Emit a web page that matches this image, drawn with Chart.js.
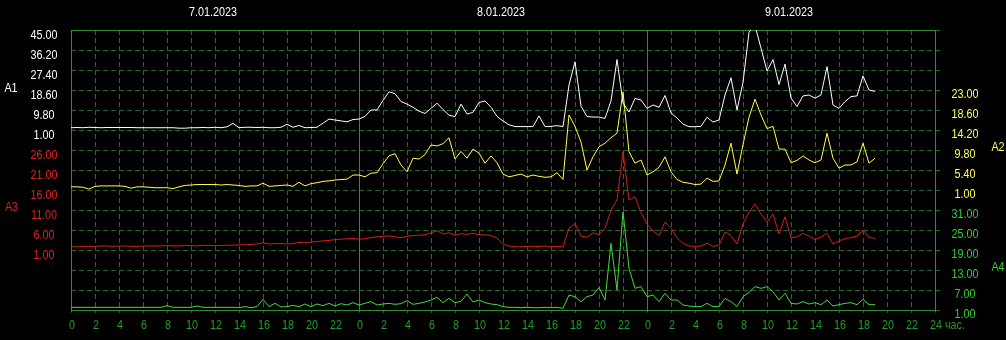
<!DOCTYPE html>
<html>
<head>
<meta charset="utf-8">
<script src="https://cdn.jsdelivr.net/npm/chart.js@4.4.1/dist/chart.umd.min.js"></script>
<style>
  html, body { margin: 0; padding: 0; background: #000; }
  canvas { display: block; }
</style>
</head>
<body>
<canvas id="chart" width="1006" height="340"></canvas>
<script>
// sample times in hours from 7.01.2023 00:00, every 30 minutes
const hours = Array.from({ length: 135 }, (_, i) => i * 0.5);

const dayLabels = ["7.01.2023", "8.01.2023", "9.01.2023"];

// A1 (white, left upper axis)
const a1 = [
  2.0, 2.1, 2.0, 2.2, 2.1, 2.0, 2.1, 2.1, 2.1, 2.1, 2.1, 2.0, 2.0, 2.0, 2.0, 2.0,
  2.0, 2.0, 1.8, 1.8, 2.0, 2.0, 2.1, 2.0, 2.2, 2.0, 2.4, 3.9, 2.0, 2.2, 2.2, 2.1,
  2.2, 2.0, 2.0, 2.2, 3.5, 2.2, 3.0, 2.0, 2.1, 2.2, 4.0, 5.8, 5.4, 5.0, 4.6, 5.6,
  // 8.01
  5.8, 7.0, 9.8, 9.8, 14, 17.8, 17, 13.5, 12.4, 11, 9.3, 8.3, 10.5, 12.8, 10, 7.5,
  6.9, 12.4, 8, 8.8, 13.1, 13.8, 11, 7, 5, 3.3, 2.5, 2.5, 2.5, 2.5, 7.2, 2.5,
  2.6, 2.9, 2.5, 20.8, 31, 11.5, 6.9, 6.7, 6.7, 6.1, 13.8, 32, 12.9, 8.9, 14.9, 14.2,
  // 9.01
  10.5, 12, 11, 16.2, 8.5, 6.3, 3.6, 2.45, 2.45, 2.6, 6.6, 4.5, 5.4, 16.4, 24, 9.8,
  22, 44, 47, 37, 27, 32, 21, 30, 15.1, 11.3, 16, 16.4, 15, 16.4, 28.9, 12,
  10.5, 13.5, 15.7, 16, 24.8, 18.6, 18
];

// A2 (yellow, right upper axis)
const a2 = [
  1.7, 1.7, 1.6, 1.2, 1.8, 1.9, 1.9, 1.9, 1.9, 1.8, 1.4, 1.7, 1.7, 1.6, 1.5, 1.5,
  1.5, 1.3, 1.7, 2.0, 2.1, 2.2, 2.2, 2.2, 2.2, 2.1, 2.2, 2.1, 2.0, 1.8, 1.9, 1.9,
  2.5, 1.8, 1.9, 2.0, 2.1, 1.8, 2.7, 1.9, 2.4, 2.6, 2.9, 3.0, 3.2, 3.3, 3.4, 4.3,
  // 8.01
  4.3, 3.9, 4.7, 4.8, 6.8, 8.5, 9.0, 6.5, 5.0, 8.0, 7.8, 8.8, 10.9, 10.7, 11.2, 12.5,
  7.8, 9.5, 8.0, 10.0, 9.1, 6.9, 8.5, 7.0, 4.5, 3.9, 4.2, 4.5, 3.9, 4.3, 4.0, 3.8,
  3.9, 4.8, 3.3, 17.5, 15.0, 11.5, 5.4, 8.3, 10.5, 11.3, 12.5, 13.5, 22.6, 9.4, 6.9, 7.6,
  // 9.01
  4.3, 5.0, 6.0, 8.3, 5.0, 3.3, 2.7, 2.5, 2.2, 2.3, 3.6, 2.9, 3.0, 6.5, 11.3, 4.5,
  11, 17, 21, 17.5, 14.5, 15, 10, 10, 7, 7.5, 8.5, 7.6, 7, 7.6, 13.5, 8,
  5.8, 6.5, 6.5, 7.2, 11.3, 6.9, 8.0
];

// A3 (red, left lower axis)
const a3 = [
  1.8, 1.8, 1.9, 1.9, 1.9, 2.0, 2.0, 1.9, 2.0, 2.0, 1.9, 1.9, 2.0, 2.0, 2.0, 2.0,
  2.1, 2.0, 2.0, 2.1, 2.1, 2.0, 2.2, 2.1, 2.1, 2.1, 2.2, 2.2, 2.3, 2.3, 2.4, 2.5,
  2.8, 2.5, 2.6, 2.6, 2.5, 2.6, 2.9, 2.8, 3.0, 3.1, 3.3, 3.4, 3.6, 3.7, 3.8, 3.9,
  // 8.01
  3.7, 3.8, 4.1, 4.3, 4.4, 4.5, 4.3, 4.1, 4.4, 4.6, 4.7, 4.8, 5.3, 5.8, 5.0, 5.3,
  4.7, 5.1, 4.9, 5.2, 4.8, 4.8, 4.6, 4.0, 2.4, 2.0, 1.8, 1.8, 1.9, 1.8, 1.9, 2.0,
  1.8, 1.9, 1.8, 6.5, 7.6, 4.5, 4.2, 5.3, 4.8, 6.4, 11, 13.5, 25.6, 13.5, 14.3, 10.4,
  // 9.01
  7.5, 5.7, 4.6, 8.0, 6.5, 4.0, 2.7, 2.0, 1.9, 2.0, 2.7, 1.9, 2.2, 5.5, 4.6, 2.5,
  7.5, 10.5, 12.5, 10, 8, 10, 5, 9.3, 4, 4.3, 5.2, 4.5, 3.6, 4.2, 5.2, 2.5,
  3.3, 3.8, 4.1, 4.5, 6.0, 4.2, 3.9
];

// A4 (green, right lower axis)
const a4 = [
  1.8, 1.8, 1.8, 1.8, 1.8, 1.8, 1.8, 1.8, 1.8, 1.8, 1.8, 1.8, 1.8, 1.8, 1.8, 1.8,
  2.3, 1.8, 1.8, 1.8, 1.8, 2.2, 1.8, 1.8, 1.8, 1.8, 1.8, 1.8, 1.7, 2.0, 1.7, 2.0,
  4.2, 2.0, 3.0, 1.9, 2.0, 2.4, 2.0, 2.8, 2.0, 2.8, 2.3, 3.0, 2.2, 2.9, 2.5, 3.2,
  // 8.01
  2.5, 3.0, 3.5, 2.5, 2.8, 3.0, 2.7, 2.9, 3.8, 2.7, 3.0, 3.4, 4.0, 4.8, 3.2, 4.5,
  3.2, 3.6, 5.8, 3.4, 4.0, 3.2, 2.8, 2.6, 2.0, 1.8, 1.8, 1.7, 1.8, 1.7, 1.7, 1.8,
  1.7, 1.8, 1.5, 5.5, 5.0, 3.5, 5.0, 5.5, 7.8, 4.0, 21, 7.0, 30.5, 13.5, 7.5, 8.0,
  // 9.01
  5.0, 5.5, 3.5, 6.0, 4.0, 4.0, 2.5, 2.2, 2.0, 2.0, 3.0, 2.0, 2.1, 4.5, 3.5, 2.0,
  5.0, 6.3, 8.0, 7.5, 8.0, 6.5, 4.0, 6.0, 3.0, 2.8, 3.5, 2.8, 3.2, 2.6, 4.0, 2.2,
  2.6, 3.0, 3.2, 2.6, 4.2, 2.6, 2.6
];

// tick values of each axis
const ticksA1 = [45, 36.2, 27.4, 18.6, 9.8, 1];
const ticksA3 = [26, 21, 16, 11, 6, 1];
const ticksA2 = [23, 18.6, 14.2, 9.8, 5.4, 1];
const ticksA4 = [31, 25, 19, 13, 7, 1];

const FONT = '12.5px "Liberation Sans", Arial, sans-serif';
const SX = 0.86; // the original font is narrow
const GRID = "#236b23";
const FRAME = "#2f8f2f";

const toPoints = (arr) => arr.map((v, i) => ({ x: hours[i], y: v }));

const text = (ctx, str, x, y, align) => {
  ctx.save();
  ctx.translate(x, y);
  ctx.scale(SX, 1);
  ctx.textAlign = align || "center";
  ctx.fillText(str, 0, 0);
  ctx.restore();
};

const decor = {
  id: "decor",
  beforeDraw(chart) {
    const { ctx, width, height } = chart;
    ctx.save();
    ctx.fillStyle = "#000";
    ctx.fillRect(0, 0, width, height);
    ctx.restore();
  },
  beforeDatasetsDraw(chart) {
    const { ctx, chartArea: a, scales } = chart;
    const px = (v) => Math.round(scales.x.getPixelForValue(v)) + 0.5;
    const py = (v) => Math.round(scales.yA4.getPixelForValue(v)) + 0.5;
    ctx.save();
    ctx.lineWidth = 1;
    ctx.strokeStyle = GRID;
    ctx.setLineDash([5, 3]);
    for (let v = 1; v <= 85; v += 6) {
      const y = py(v);
      ctx.beginPath();
      ctx.moveTo(a.left, y);
      ctx.lineTo(a.right + 7, y);
      ctx.stroke();
    }
    for (let h = 2; h < 72; h += 2) {
      if (h % 24 === 0) continue;
      const x = px(h);
      ctx.beginPath();
      ctx.moveTo(x, a.top);
      ctx.lineTo(x, a.bottom + 3);
      ctx.stroke();
    }
    ctx.setLineDash([]);
    ctx.strokeStyle = FRAME;
    const top = py(85), bottom = py(1);
    ctx.beginPath();
    ctx.moveTo(a.left, top);
    ctx.lineTo(px(72), top);
    ctx.moveTo(a.left, bottom);
    ctx.lineTo(px(72), bottom);
    for (const h of [0, 24, 48, 72]) {
      ctx.moveTo(px(h), top);
      ctx.lineTo(px(h), bottom + 2);
    }
    ctx.stroke();
    ctx.restore();
  },
  afterDraw(chart) {
    const { ctx, scales } = chart;
    ctx.save();
    ctx.font = FONT;
    ctx.textBaseline = "alphabetic";

    // dates
    ctx.fillStyle = "#ffffff";
    dayLabels.forEach((d, i) => {
      text(ctx, d, scales.x.getPixelForValue(i * 24 + 12) - 2, 16);
    });

    // value axes
    const axis = (ticks, scale, color, x, dy) => {
      ctx.fillStyle = color;
      ticks.forEach((v) => text(ctx, v.toFixed(2), x, scale.getPixelForValue(v) + dy));
    };
    axis(ticksA1, scales.yA1, "#ffffff", 44, 8.5);
    axis(ticksA3, scales.yA3, "#e02020", 44, 8.5);
    axis(ticksA2, scales.yA2, "#ffff55", 965, 7.5);
    axis(ticksA4, scales.yA4, "#33cc33", 965, 7.5);

    // axis names
    ctx.fillStyle = "#ffffff";
    text(ctx, "A1", 11, 92);
    ctx.fillStyle = "#e02020";
    text(ctx, "A3", 11.5, 211);
    ctx.fillStyle = "#ffff55";
    text(ctx, "A2", 998, 151);
    ctx.fillStyle = "#33cc33";
    text(ctx, "A4", 998, 271);

    // hours
    ctx.fillStyle = "#2a9a2a";
    for (let h = 0; h <= 72; h += 2) {
      const label = h === 72 ? "24" : String(h % 24);
      text(ctx, label, scales.x.getPixelForValue(h) + 1, 329);
    }
    text(ctx, "час.", scales.x.getPixelForValue(72) + 10, 329, "left");
    ctx.restore();
  },
};

const line = (label, data, color, axis) => ({
  label,
  data: toPoints(data),
  borderColor: color,
  borderWidth: 1,
  pointRadius: 0,
  tension: 0,
  fill: false,
  yAxisID: axis,
});

new Chart(document.getElementById("chart").getContext("2d"), {
  type: "line",
  data: {
    datasets: [
      line("A1", a1, "#ffffff", "yA1"),
      line("A2", a2, "#ffff50", "yA2"),
      line("A3", a3, "#d41c1c", "yA3"),
      line("A4", a4, "#3fdc3f", "yA4"),
    ],
  },
  options: {
    responsive: false,
    animation: false,
    layout: { padding: { left: 71, right: 71, top: 30, bottom: 30 } },
    plugins: { legend: { display: false }, tooltip: { enabled: false } },
    scales: {
      x: { type: "linear", min: 0, max: 72, display: false },
      yA1: { min: -78.2, max: 45, display: false },
      yA2: { min: -25.4, max: 36.2, display: false },
      yA3: { min: -14, max: 56, display: false },
      yA4: { min: 1, max: 85, display: false },
    },
  },
  plugins: [decor],
});
</script>
</body>
</html>
